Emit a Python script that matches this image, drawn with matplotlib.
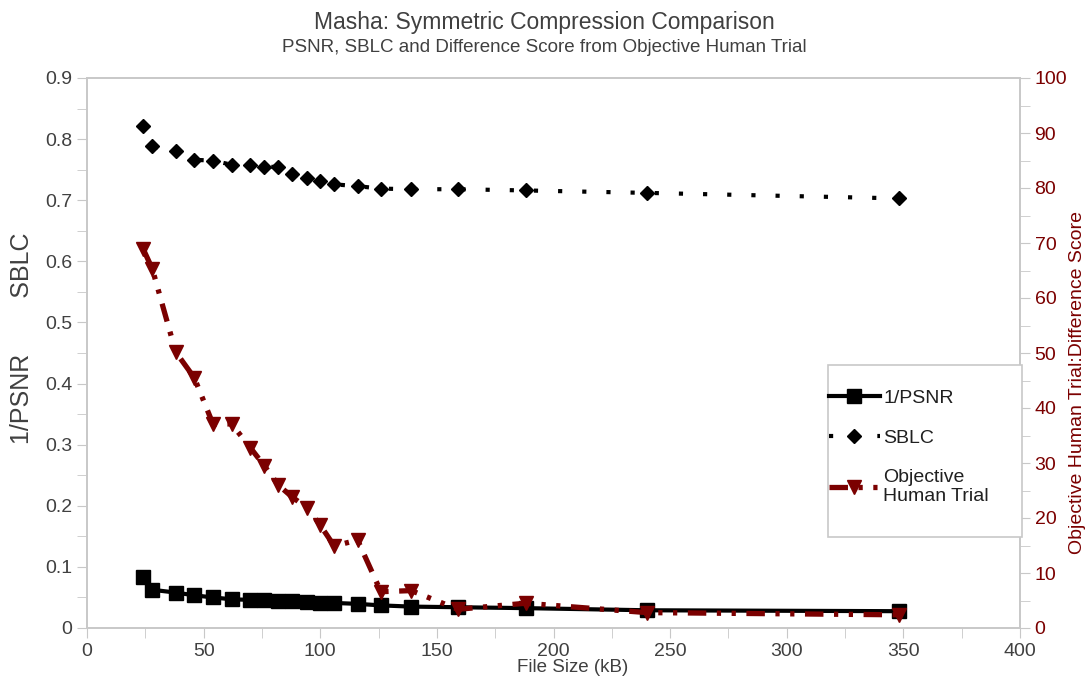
import matplotlib
matplotlib.use("Agg")
import matplotlib.pyplot as plt
from matplotlib.ticker import MultipleLocator
from matplotlib.patches import Rectangle

plt.rcParams['font.family'] = ['Liberation Sans', 'DejaVu Sans']

file_size = [24, 28, 38, 46, 54, 62, 70, 76, 82, 88, 94.5, 100, 106, 116, 126, 139, 159, 188, 240, 348]
inv_psnr = [0.083, 0.0625, 0.058, 0.0535, 0.050, 0.047, 0.046, 0.0455, 0.045, 0.044, 0.043, 0.041,
            0.041, 0.0395, 0.037, 0.035, 0.034, 0.0325, 0.0290, 0.0275]
sblc = [0.822, 0.788, 0.781, 0.766, 0.765, 0.758, 0.757, 0.754, 0.755, 0.743, 0.737, 0.731,
        0.726, 0.723, 0.719, 0.718, 0.718, 0.716, 0.712, 0.703]
human_trial = [69.0, 65.3, 50.2, 45.5, 37.1, 37.1, 32.8, 29.5, 26.0, 23.8, 21.8, 18.7,
               14.9, 16.0, 6.6, 6.8, 3.4, 4.5, 2.8, 2.4]

title = "Masha: Symmetric Compression Comparison"
subtitle = "PSNR, SBLC and Difference Score from Objective Human Trial"

dark_red = "#7b0000"
grey_text = "#404040"
frame = "#c8c8c8"
W, H = 1089, 679

fig = plt.figure(figsize=(10.89, 6.79), dpi=100)
ax = fig.add_axes([87 / W, 1 - 628 / H, (1020 - 87) / W, (628 - 78) / H])
ax2 = ax.twinx()

l1, = ax.plot(file_size, inv_psnr, color="black", lw=3, marker="s", ms=10, zorder=4)
l2, = ax.plot(file_size, sblc, color="black", lw=3, linestyle=(0, (1, 4.8)), marker="D", ms=7.5,
              dash_capstyle="butt", zorder=4)
l3, = ax2.plot(file_size, human_trial, color=dark_red, lw=3.8, linestyle=(0, (3.5, 2, 0.8, 2, 0.8, 2)),
               marker="v", ms=10, zorder=3)

ax.set_xlim(0, 400)
ax.set_ylim(0, 0.9)
ax2.set_ylim(0, 100)
ax.xaxis.set_major_locator(MultipleLocator(50))
ax.xaxis.set_minor_locator(MultipleLocator(25))
ax.yaxis.set_major_locator(MultipleLocator(0.1))
ax.yaxis.set_minor_locator(MultipleLocator(0.05))
ax2.yaxis.set_major_locator(MultipleLocator(10))
ax2.yaxis.set_minor_locator(MultipleLocator(5))
ax.set_yticks(ax.get_yticks())
ax.set_yticklabels([f"{v:g}" for v in ax.get_yticks()])
ax.set_ylim(0, 0.9)

for a in (ax, ax2):
    for s in a.spines.values():
        s.set_color(frame)
        s.set_linewidth(1.2)

ax.tick_params(axis="both", which="both", colors=frame, labelcolor=grey_text, labelsize=14, length=7)
ax2.tick_params(axis="y", which="both", colors=frame, labelcolor=dark_red, labelsize=14, length=7)

fig.text(573 / W, 1 - 668 / H, "File Size (kB)", ha="center", va="center", fontsize=13.5, color=grey_text)
fig.text(22 / W, 1 - 338 / H, "1/PSNR        SBLC", ha="center", va="center", rotation=90,
         fontsize=18, color=grey_text)
fig.text(1078 / W, 1 - 383 / H, "Objective Human Trial:Difference Score", ha="center", va="center",
         rotation=90, fontsize=14, color=dark_red)

fig.text(0.5, 1 - 22 / H, title, ha="center", va="center", fontsize=16.5, color=grey_text)
fig.text(0.5, 1 - 48 / H, subtitle, ha="center", va="center", fontsize=13.5, color=grey_text)

# legend box
box = Rectangle((828 / W, 1 - 537 / H), (1022 - 828) / W, (537 - 365) / H,
                transform=fig.transFigure, facecolor="white", edgecolor=frame,
                linewidth=1.2, zorder=9, clip_on=False)
ax2.add_artist(box)
leg = ax2.legend([l1, l2, l3], ["1/PSNR", "SBLC", "Objective\nHuman Trial"],
                 loc="upper left", bbox_to_anchor=(829 / W, 1 - 389 / H),
                 bbox_transform=fig.transFigure,
                 fontsize=14, frameon=False, handlelength=2.6,
                 labelspacing=1.15, borderpad=0, handletextpad=0.2, borderaxespad=0)
for t in leg.get_texts():
    t.set_color("#202020")
    t.set_linespacing(1.15)
leg.set_zorder(10)

fig.savefig("out.png", dpi=100, facecolor="white")
